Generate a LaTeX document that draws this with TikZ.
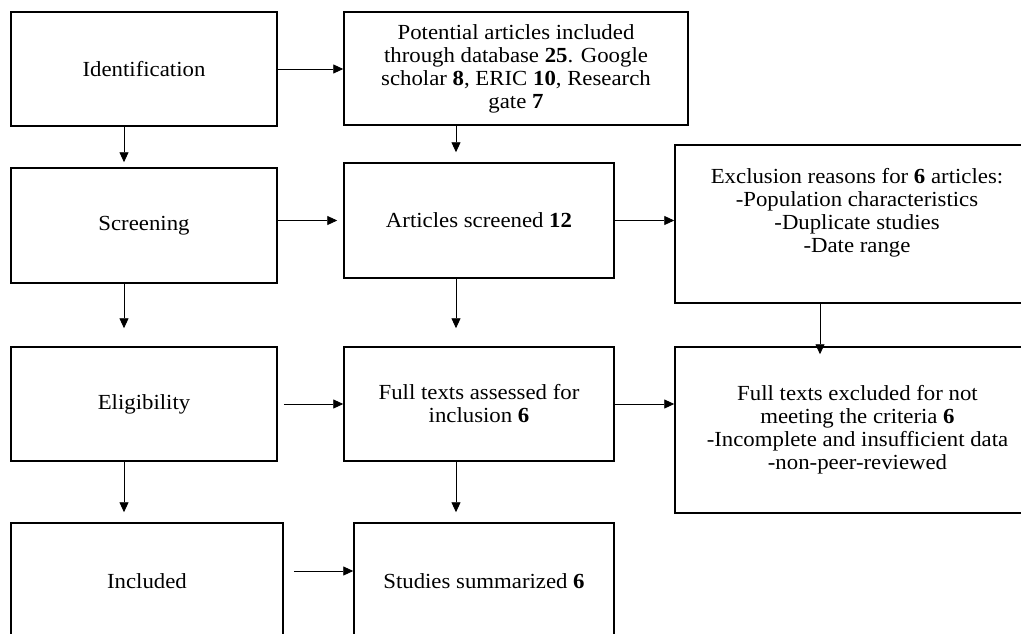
\documentclass[tikz,border=0pt]{standalone}
\usepackage{fontspec}
\setmainfont[FakeStretch=1.06]{Liberation Serif}
\usetikzlibrary{arrows.meta}
\begin{document}
\begin{tikzpicture}[x=1pt,y=-1pt,
  box/.style={draw, line width=1.5pt, inner sep=0pt, align=center,
    font=\fontsize{21.5}{23}\selectfont},
  txt/.style={inner sep=0pt, align=center, font=\fontsize{21.5}{23}\selectfont},
  arr/.style={line width=0.9pt, -{Triangle[length=10pt,width=9pt]}}]
\useasboundingbox (0,0) rectangle (1021,634);
\fill[white] (0,0) rectangle (1021,634);
\node[box, minimum width=266pt, minimum height=114pt] (ident) at (144,69) {Identification};
\node[box, minimum width=344pt, minimum height=113pt] (pot) at (516,68.4) {Potential articles included\\through database \textbf{25}. Google\\scholar \textbf{8}, ERIC \textbf{10}, Research\\gate \textbf{7}};
\node[box, minimum width=266pt, minimum height=115pt] (scr) at (144,225.5) {Screening};
\node[box, minimum width=270pt, minimum height=115pt] (art) at (479,220.5) {Articles screened \textbf{12}};
\node[box, minimum width=365pt, minimum height=158pt] (excl) at (857.5,224) {};
\node[txt, anchor=north] (excltxt) at (857,168) {Exclusion reasons for \textbf{6} articles:\\-Population characteristics\\-Duplicate studies\\-Date range};
\node[box, minimum width=266pt, minimum height=114pt] (elig) at (144,404) {Eligibility};
\node[box, minimum width=270pt, minimum height=114pt] (full) at (479,404) {Full texts assessed for\\inclusion \textbf{6}};
\node[box, minimum width=365pt, minimum height=166pt] (fex) at (857.5,430) {Full texts excluded for not\\meeting the criteria \textbf{6}\\-Incomplete and insufficient data\\-non-peer-reviewed};
\node[box, minimum width=272pt, minimum height=117pt] (incl) at (147,581.5) {Included};
\node[box, minimum width=260pt, minimum height=117pt] (stud) at (484,581.5) {Studies summarized \textbf{6}};

\draw[arr] (ident.east) -- (ident.east -| pot.west);
\draw[arr, shorten >=5pt] ([xshift=-20pt]ident.south) -- ([xshift=-20pt]scr.north);
\draw[arr, shorten >=10pt] ([xshift=-60pt]pot.south) -- ([xshift=-23pt]art.north);
\draw[arr, shorten >=6pt] (scr.east |- art.west) -- (art.west);
\draw[arr] (art.east) -- (art.east -| excl.west);
\draw[arr, shorten >=18pt] ([xshift=-20pt]scr.south) -- ([xshift=-20pt]elig.north);
\draw[arr, shorten >=18pt] ([xshift=-23pt]art.south) -- ([xshift=-23pt]full.north);
\draw[arr, shorten >=-8pt] ([xshift=-37.5pt]excl.south) -- ([xshift=-37.5pt]fex.north);
\draw[arr, shorten <=6pt] (elig.east) -- (full.west);
\draw[arr] (full.east) -- (full.east -| fex.west);
\draw[arr, shorten >=10pt] ([xshift=-20pt]elig.south) -- ([xshift=-23pt]incl.north);
\draw[arr, shorten >=10pt] ([xshift=-23pt]full.south) -- ([xshift=-28pt]stud.north);
\draw[arr, shorten <=10pt] ([yshift=10.5pt]incl.east) -- ([yshift=10.5pt]stud.west);
\end{tikzpicture}
\end{document}
